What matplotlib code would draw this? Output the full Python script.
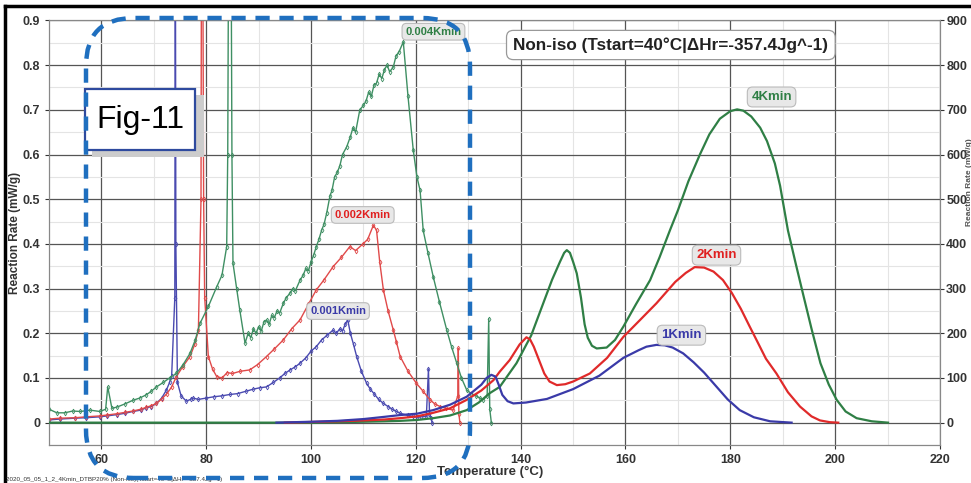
import matplotlib
matplotlib.use("Agg")
import matplotlib.pyplot as plt
from matplotlib.patches import FancyBboxPatch, Rectangle
from matplotlib.transforms import IdentityTransform
from matplotlib.lines import Line2D

plt.rcParams["font.family"] = ["Liberation Sans", "DejaVu Sans"]

# slow scans (left axis, mW/g)
t_001 = [50, 52, 55, 57, 59.7, 61, 63, 64.5, 66, 67.5, 68.5, 69.5, 70.5, 71.5, 72.4, 73.0, 73.4,
         74.0, 74.1, 74.2, 74.5, 75.2, 76.2, 77.0, 77.5, 78.5, 80, 81.5, 83, 84.5, 86, 87.5, 89,
         90.2, 91.5, 92.8, 94, 95, 96, 97, 97.9, 99, 100, 101, 102, 103, 104.2, 104.8, 105.5, 106,
         106.5, 107, 107.5, 108.1, 108.7, 109.6, 110.6, 111.3, 112, 112.9, 113.8, 114.7, 115.5,
         116.3, 117, 118.5, 119.5, 120.2, 121, 122, 122.4, 122.6, 122.9, 123.1]
r_001 = [0.006, 0.008, 0.01, 0.011, 0.013, 0.015, 0.018, 0.021, 0.025, 0.028, 0.033, 0.036, 0.043,
         0.055, 0.073, 0.09, 0.105, 0.28, 1.2, 0.4, 0.09, 0.06, 0.048, 0.052, 0.055, 0.052, 0.055,
         0.058, 0.06, 0.063, 0.065, 0.07, 0.075, 0.078, 0.08, 0.09, 0.1, 0.11, 0.118, 0.125, 0.133,
         0.145, 0.16, 0.17, 0.185, 0.195, 0.207, 0.2, 0.21, 0.205, 0.22, 0.23, 0.2, 0.175, 0.148,
         0.115, 0.088, 0.075, 0.065, 0.052, 0.043, 0.036, 0.03, 0.025, 0.021, 0.016, 0.014, 0.012,
         0.013, 0.014, 0.12, 0.02, 0.01, 0.0]

t_002 = [50, 52, 55, 57, 59.7, 61, 63, 64.5, 66, 67.5, 68.5, 69.5, 70.5, 71.5, 72.5, 73.4, 74.3,
         75.5, 76.9, 77.8, 78.5, 79.0, 79.1, 79.3, 79.5, 79.7, 80.4, 81.2, 82, 83, 84, 85, 86.5,
         88.3, 89.8, 91.5, 93, 94.7, 96.3, 97.9, 99.5, 101, 102.5, 104.2, 105.8, 107.4, 108.5,
         109.9, 110.8, 111.9, 112.5, 113.1, 113.8, 114.7, 115.7, 116.3, 117, 118.5, 120.1, 121.4,
         122.7, 123.6, 124.6, 125.8, 127.1, 128.0, 128.1, 128.2, 128.4]
r_002 = [0.008, 0.01, 0.011, 0.013, 0.015, 0.017, 0.02, 0.023, 0.026, 0.03, 0.034, 0.038, 0.043,
         0.053, 0.065, 0.08, 0.103, 0.125, 0.148, 0.175, 0.207, 0.5, 1.2, 1.2, 0.5, 0.28, 0.148,
         0.12, 0.103, 0.1, 0.112, 0.11, 0.115, 0.118, 0.13, 0.148, 0.165, 0.185, 0.21, 0.23, 0.265,
         0.297, 0.32, 0.349, 0.37, 0.394, 0.385, 0.40, 0.41, 0.442, 0.43, 0.36, 0.297, 0.25, 0.207,
         0.18, 0.148, 0.115, 0.088, 0.07, 0.051, 0.042, 0.036, 0.032, 0.028, 0.06, 0.166, 0.02, 0.0]

t_004 = [50, 51.5, 53, 54.5, 56, 57.8, 59.7, 60.8, 61.2, 62, 63, 64.5, 66, 67.3, 68.5, 69.5, 70.5,
         71.8, 73, 74.3, 75.6, 76.9, 77.9, 78.8, 80.4, 82, 83, 83.9, 84.1, 84.3, 84.7, 84.9, 85.1,
         85.8, 86.4, 87.4, 88, 88.5, 89, 89.5, 90, 90.5, 91, 91.5, 92, 92.5, 93, 93.5, 94, 94.7,
         95.3, 96, 96.5, 97, 97.9, 98.5, 99, 99.5, 100, 100.5, 101, 101.5, 102, 102.5, 103, 103.6,
         104, 104.5, 105, 105.5, 106, 106.8, 107.5, 108, 108.5, 109.3, 110, 110.5, 111, 111.5, 112,
         112.5, 113, 113.5, 114, 114.5, 115, 115.7, 116.2, 116.8, 117.6, 118.5, 119.5, 120.2,
         120.8, 121.4, 122.3, 123.3, 124.5, 125.9, 126.8, 127.8, 128.7, 129.7, 130.6, 131.5,
         132.2, 132.8, 133.6, 133.9, 134.1, 134.4]
r_004 = [0.03, 0.022, 0.022, 0.026, 0.025, 0.028, 0.025, 0.03, 0.08, 0.032, 0.035, 0.042, 0.05,
         0.055, 0.062, 0.07, 0.08, 0.09, 0.1, 0.11, 0.13, 0.155, 0.185, 0.222, 0.26, 0.304, 0.33,
         0.394, 0.6, 1.2, 1.2, 0.6, 0.357, 0.3, 0.252, 0.178, 0.2, 0.19, 0.21, 0.2, 0.215, 0.205,
         0.225, 0.23, 0.22, 0.24, 0.235, 0.25, 0.245, 0.267, 0.28, 0.29, 0.3, 0.295, 0.319, 0.33,
         0.345, 0.34, 0.36, 0.375, 0.394, 0.41, 0.43, 0.445, 0.47, 0.507, 0.52, 0.55, 0.56, 0.575,
         0.6, 0.617, 0.64, 0.66, 0.65, 0.70, 0.71, 0.72, 0.74, 0.73, 0.755, 0.76, 0.78, 0.77, 0.79,
         0.8, 0.785, 0.796, 0.82, 0.83, 0.852, 0.73, 0.61, 0.55, 0.52, 0.43, 0.38, 0.327, 0.27,
         0.207, 0.17, 0.133, 0.1, 0.073, 0.065, 0.06, 0.055, 0.051, 0.06, 0.233, 0.03, 0.0]

# fast scans (right axis)
t_1k = [93.4, 100, 105, 110, 114, 117, 120.2, 123.3, 126.5, 129.7, 132.5, 133.5, 134.4, 135.2,
        135.8, 136.5, 137.5, 138.6, 141, 145, 150, 155, 159.6, 162.5, 164, 165.9, 167.5, 169,
        171, 173, 175, 177.4, 179.5, 181.8, 184.5, 187.6, 191.7]
v_1k = [0, 2, 4, 8, 13, 17, 20, 28, 40, 58, 85, 100, 107, 103, 85, 62, 48, 43, 45, 53, 75, 105,
        145, 162, 170, 174, 173, 168, 155, 135, 112, 80, 52, 28, 12, 3, 0]

t_2k = [95, 105, 110, 114, 117, 120.2, 123.3, 126.5, 129.7, 132.5, 134.8, 136, 137.9, 139.8,
        141.1, 141.8, 142.5, 143.5, 144.5, 145.5, 146.9, 148.5, 150, 153.2, 156.5, 159.6, 162.8,
        165.9, 169.5, 171.5, 173.2, 175, 176.8, 178.6, 180.3, 182, 183.7, 185.3, 186.8, 188.8,
        191, 193.3, 195.5, 197.1, 199, 200.6]
v_2k = [0, 3, 5, 7, 10, 14, 22, 32, 51, 72, 95, 114, 140, 175, 191, 186, 170, 140, 110, 92, 84,
        86, 92, 110, 145, 192, 230, 267, 315, 335, 348, 347, 338, 319, 290, 255, 215, 178, 143,
        110, 68, 36, 14, 5, 1, 0]

t_4k = [50, 100, 105, 110, 114, 117, 120.2, 123.3, 126.5, 129.7, 132, 134.1, 136, 139.2, 142,
        144.3, 146, 147.5, 148.3, 148.8, 149.4, 150, 150.7, 151.5, 152.2, 152.8, 153.6, 154.5,
        156.4, 158, 159.6, 162, 164.7, 166.5, 168.5, 170, 172, 174.2, 176, 178, 180, 181.3,
        182.5, 184, 185.7, 187, 188.5, 189.5, 191, 192.5, 194, 195.5, 197.2, 198.8, 200.3, 202,
        204.1, 207, 210.1]
v_4k = [0, 0, 1, 2, 3, 4, 6, 10, 16, 28, 45, 66, 80, 133, 195, 267, 320, 360, 380, 386, 380, 360,
        334, 280, 220, 190, 172, 166, 168, 185, 215, 265, 319, 370, 431, 475, 540, 600, 645, 680,
        697, 701, 698, 685, 660, 630, 580, 530, 430, 355, 282, 210, 133, 85, 51, 25, 10, 3, 0]

slow_labels = ["0.001Kmin", "0.002Kmin", "0.004Kmin"]
fast_labels = ["1Kmin", "2Kmin", "4Kmin"]
x_ticks = [60, 80, 100, 120, 140, 160, 180, 200, 220]
left_ticks = [0, 0.1, 0.2, 0.3, 0.4, 0.5, 0.6, 0.7, 0.8, 0.9]
right_ticks = [0, 100, 200, 300, 400, 500, 600, 700, 800, 900]

blue = "#3a3aa8"
red = "#e02a2a"
green = "#2f7f45"
slow_green = "#3f8f63"
slow_blue = "#4a4ab0"
slow_red = "#e04a4a"

fig = plt.figure(figsize=(9.71, 4.83), dpi=100)
ax = fig.add_axes([0.0505, 0.0787, 0.9175, 0.879])
ax2 = ax.twinx()

# grid
ax.set_xticks(x_ticks)
ax.set_xticks(range(50, 221, 10), minor=True)
ax.set_yticks(left_ticks)
ax.set_yticks([v / 100 for v in range(-5, 91, 5)], minor=True)
ax.grid(which="major", color="#555555", lw=0.9)
ax.grid(which="minor", color="#e4e4e4", lw=0.8)
ax.set_axisbelow(True)

ax.set_xlim(50, 220)
ax.set_ylim(-0.05, 0.9)
ax2.set_ylim(-50, 900)
ax2.set_yticks(right_ticks)

for t, r, c in [(t_001, r_001, slow_blue), (t_002, r_002, slow_red), (t_004, r_004, slow_green)]:
    ax.plot(t, r, color=c, lw=1.0, marker="d", ms=2.4, mfc="none", mew=0.6, zorder=3)

ax2.plot(t_4k, v_4k, color=green, lw=1.6, zorder=4)
ax2.plot(t_2k, v_2k, color=red, lw=1.6, zorder=4)
ax2.plot(t_1k, v_1k, color=blue, lw=1.6, zorder=4)

# tick styling
ax.set_yticklabels(["0"] + [f"{v:.1f}" for v in left_ticks[1:]])
for a in (ax, ax2):
    a.tick_params(labelsize=9, colors="#333333", length=3, width=0.8)
    for lbl in a.get_xticklabels() + a.get_yticklabels():
        lbl.set_fontweight("bold")
    for s in a.spines.values():
        s.set_color("#888888")
ax.tick_params(which="minor", length=0)
ax2.tick_params(axis="y", pad=1.5)

ax.set_ylabel("Reaction Rate (mW/g)", fontsize=8.5, fontweight="bold", color="#333333")
ax.yaxis.set_label_coords(-0.031, 0.5)
ax.set_xlabel("Temperature (°C)", fontsize=9.5, fontweight="bold", color="#333333")
ax.xaxis.set_label_coords(0.495, -0.05)
ax2.set_ylabel("Reaction Rate (mW/g)", fontsize=6, fontweight="bold", color="#555555")
ax2.yaxis.set_label_coords(1.029, 0.62)

box = dict(boxstyle="round,pad=0.3,rounding_size=0.4", fc="#e8e8e8", ec="#bbbbbb", lw=0.8)
ax.text(118.0, 0.868, slow_labels[2], color=green, fontsize=8, fontweight="bold", bbox=box, zorder=6)
ax.text(104.5, 0.458, slow_labels[1], color="#e02020", fontsize=8, fontweight="bold", bbox=box, zorder=6)
ax.text(99.8, 0.243, slow_labels[0], color=blue, fontsize=8, fontweight="bold", bbox=box, zorder=6)
ax2.text(184.0, 722, fast_labels[2], color=green, fontsize=9.5, fontweight="bold", bbox=box, zorder=6)
ax2.text(173.5, 368, fast_labels[1], color="#e02020", fontsize=9.5, fontweight="bold", bbox=box, zorder=6)
ax2.text(166.8, 189, fast_labels[0], color=blue, fontsize=9.5, fontweight="bold", bbox=box, zorder=6)

ax2.text(138.6, 845, "Non-iso (Tstart=40°C|ΔHr=-357.4Jg^-1)", fontsize=12.3, fontweight="bold",
         color="#222222", va="center", zorder=6,
         bbox=dict(boxstyle="round,pad=0.4,rounding_size=0.4", fc="white", ec="#999999", lw=0.9))

# Fig-11 tag with shadow
fig.patches.append(Rectangle((92, 483 - 157), 112, 62, transform=IdentityTransform(),
                             fc="#cccccc", ec="none", zorder=7))
fig.patches.append(Rectangle((85, 483 - 150), 110, 61, transform=IdentityTransform(),
                             fc="white", ec="#2e4a9e", lw=1.6, zorder=8))
fig.text(140 / 971, 1 - 120 / 483, "Fig-11", fontsize=23, ha="center", va="center", zorder=9)

# dashed blue rounded frame
frame = FancyBboxPatch((86, 483 - 478), 384, 460, transform=IdentityTransform(),
                       boxstyle="round,pad=0,rounding_size=48", fill=False,
                       ec="#1f6fbf", lw=3.2, ls=(0, (3.2, 2.2)), zorder=10)
fig.patches.append(frame)

# screenshot frame lines
fig.add_artist(Line2D([5 / 971, 1], [1 - 6 / 483, 1 - 6 / 483], color="black", lw=2.5))
fig.add_artist(Line2D([5 / 971, 5 / 971], [0, 1 - 6 / 483], color="black", lw=2.5))

fig.text(6 / 971, 2 / 483, "2020_05_05_1_2_4Kmin_DTBP20% (Non-iso)(Tstart=40°C|ΔHr=-357.4Jg^-1)",
         fontsize=4.5, color="#333333")

fig.savefig("out.png", dpi=100, facecolor="white")
